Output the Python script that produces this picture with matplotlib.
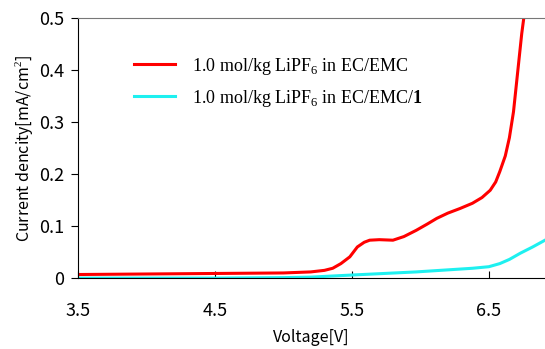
import numpy as np
import matplotlib.pyplot as plt

plt.rcParams['font.family'] = ['Noto Sans CJK JP', 'DejaVu Sans']
plt.rcParams['mathtext.fontset'] = 'custom'
plt.rcParams['mathtext.rm'] = 'Liberation Serif'
plt.rcParams['mathtext.bf'] = 'Liberation Serif:bold'

# LSV data
v_ref = [3.5, 4.0, 4.5, 5.0, 5.2, 5.3, 5.36, 5.42, 5.485, 5.54, 5.59, 5.63, 5.7,
         5.8, 5.88, 5.97, 6.05, 6.12, 6.2, 6.29, 6.38, 6.45, 6.51, 6.55, 6.58,
         6.62, 6.65, 6.68, 6.70, 6.72, 6.74, 6.755]
i_ref = [0.007, 0.008, 0.009, 0.010, 0.012, 0.015, 0.019, 0.028, 0.041, 0.060,
         0.069, 0.073, 0.074, 0.073, 0.080, 0.092, 0.104, 0.115, 0.125, 0.134,
         0.144, 0.155, 0.169, 0.185, 0.205, 0.235, 0.27, 0.32, 0.37, 0.42, 0.47, 0.5]

v_add = [3.5, 4.5, 5.0, 5.2, 5.5, 5.97, 6.38, 6.5, 6.58, 6.65, 6.73, 6.82, 6.91]
i_add = [0.0, 0.0, 0.001, 0.002, 0.006, 0.012, 0.019, 0.022, 0.028, 0.036,
         0.048, 0.060, 0.073]

labels = [r'1.0 mol/kg LiPF$_6$ in EC/EMC',
          r'1.0 mol/kg LiPF$_6$ in EC/EMC/$\mathbf{1}$']
xticks = [3.5, 4.5, 5.5, 6.5]
yticks = [0, 0.1, 0.2, 0.3, 0.4, 0.5]

fig = plt.figure(figsize=(5.45, 3.49), dpi=100)
ax = fig.add_axes([0.143, 0.203, 0.857, 0.745])

ax.plot(v_ref, i_ref, color='#ff0000', lw=2.2, label=labels[0])
ax.plot(v_add, i_add, color='#1ef0f0', lw=2.2, label=labels[1])

ax.set_xlim(3.5, 6.91)
ax.set_ylim(0, 0.5)
ax.set_xticks(xticks)
ax.set_xticklabels(['3.5', '4.5', '5.5', '6.5'])
ax.set_yticks(yticks)
ax.set_yticklabels(['0', '0.1', '0.2', '0.3', '0.4', '0.5'])
ax.tick_params(axis='x', direction='in', length=5, pad=17, labelsize=13)
ax.tick_params(axis='y', direction='out', length=5, pad=5, labelsize=13)
ax.spines['right'].set_visible(False)
ax.spines['top'].set_color('#777777')

ax.set_xlabel('Voltage[V]', fontsize=11.5, labelpad=7)
ax.set_ylabel('Current dencity[mA/cm$^2$]', fontsize=11.5, labelpad=3)

ax.legend(loc='upper left', bbox_to_anchor=(0.216, 0.887), bbox_transform=fig.transFigure,
          frameon=False, prop={'family': 'Liberation Serif', 'size': 13},
          handlelength=2.3, handletextpad=0.9, labelspacing=0.6)

fig.savefig('out.png', dpi=100)
